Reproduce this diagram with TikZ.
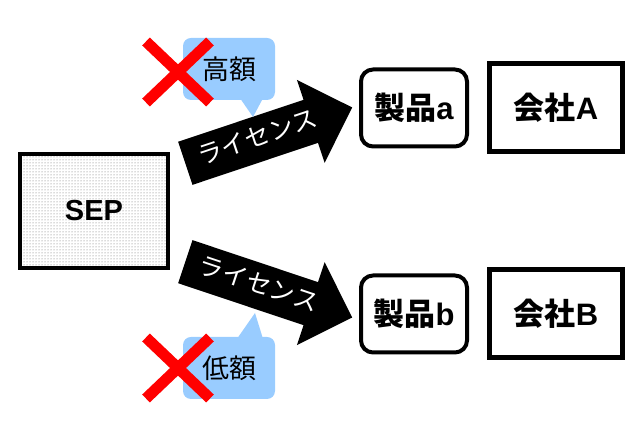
\documentclass[tikz,border=0pt]{standalone}
\usepackage{fontspec}
\setmainfont{Liberation Sans}
\newfontfamily\jp{Noto Sans CJK JP}
\usepackage{xcolor}
\definecolor{bubbleblue}{RGB}{153,204,255}
\usetikzlibrary{shapes.arrows,shapes.misc,patterns,positioning}

\begin{document}
\begin{tikzpicture}[
    x=1pt,y=1pt,
    node distance=18pt and 18pt,
    source/.style={rectangle,draw=black,line width=4pt,pattern=dots,pattern color=black!60,
                   minimum width=148pt,minimum height=114pt,font=\bfseries\fontsize{29}{31}\selectfont},
    product/.style={rectangle,rounded corners=12pt,draw=black,line width=4pt,
                    minimum width=106pt,minimum height=77pt,font=\jp\bfseries\fontsize{31}{33}\selectfont},
    company/.style={rectangle,draw=black,line width=5pt,
                    minimum width=133pt,minimum height=88pt,font=\jp\bfseries\fontsize{31}{33}\selectfont},
    license/.style={single arrow,fill=black,text=white,minimum height=176pt,
                    single arrow head extend=21pt,inner xsep=0pt,inner ysep=11.5pt,
                    text height=18pt,text depth=4pt,font=\jp\fontsize{25}{25}\selectfont},
    bubble/.style={rectangle,rounded corners=8pt,fill=bubbleblue,
                   minimum width=92pt,minimum height=62pt,font=\jp\fontsize{27}{27}\selectfont},
    nogo/.style={cross out,draw=red,line width=11pt,inner sep=0pt,outer sep=0pt,
                 minimum width=64pt,minimum height=61pt}
]
\useasboundingbox (0,0) rectangle (640,430);

\node[source] (sep) at (94,219) {SEP};
\node[product] (proda) at (414,322) {製品{\rmfamily a}};
\node[company,right=of proda] (compa) {会社{\rmfamily A}};
\node[product] (prodb) at (414,116) {製品{\rmfamily b}};
\node[company,right=of prodb] (compb) {会社{\rmfamily B}};

\node[license,rotate=18.5] (lica) at (258,291) {ライセンス};
\node[license,rotate=-18.5] (licb) at (258,144) {ライセンス};

\node[bubble] (high) at (229,361) {高額};
\coordinate (hightip) at (253,313);
\fill[bubbleblue] ([xshift=11pt,yshift=2pt]high.south) -- (hightip) -- ([xshift=34pt,yshift=2pt]high.south) -- cycle;

\node[bubble] (low) at (229,62) {低額};
\coordinate (lowtip) at (255,117);
\fill[bubbleblue] ([xshift=8pt,yshift=-2pt]low.north) -- (lowtip) -- ([xshift=34pt,yshift=-2pt]low.north) -- cycle;

\node[nogo] (nohigh) at (178,358) {};
\node[nogo] (nolow) at (178,62) {};
\end{tikzpicture}
\end{document}
